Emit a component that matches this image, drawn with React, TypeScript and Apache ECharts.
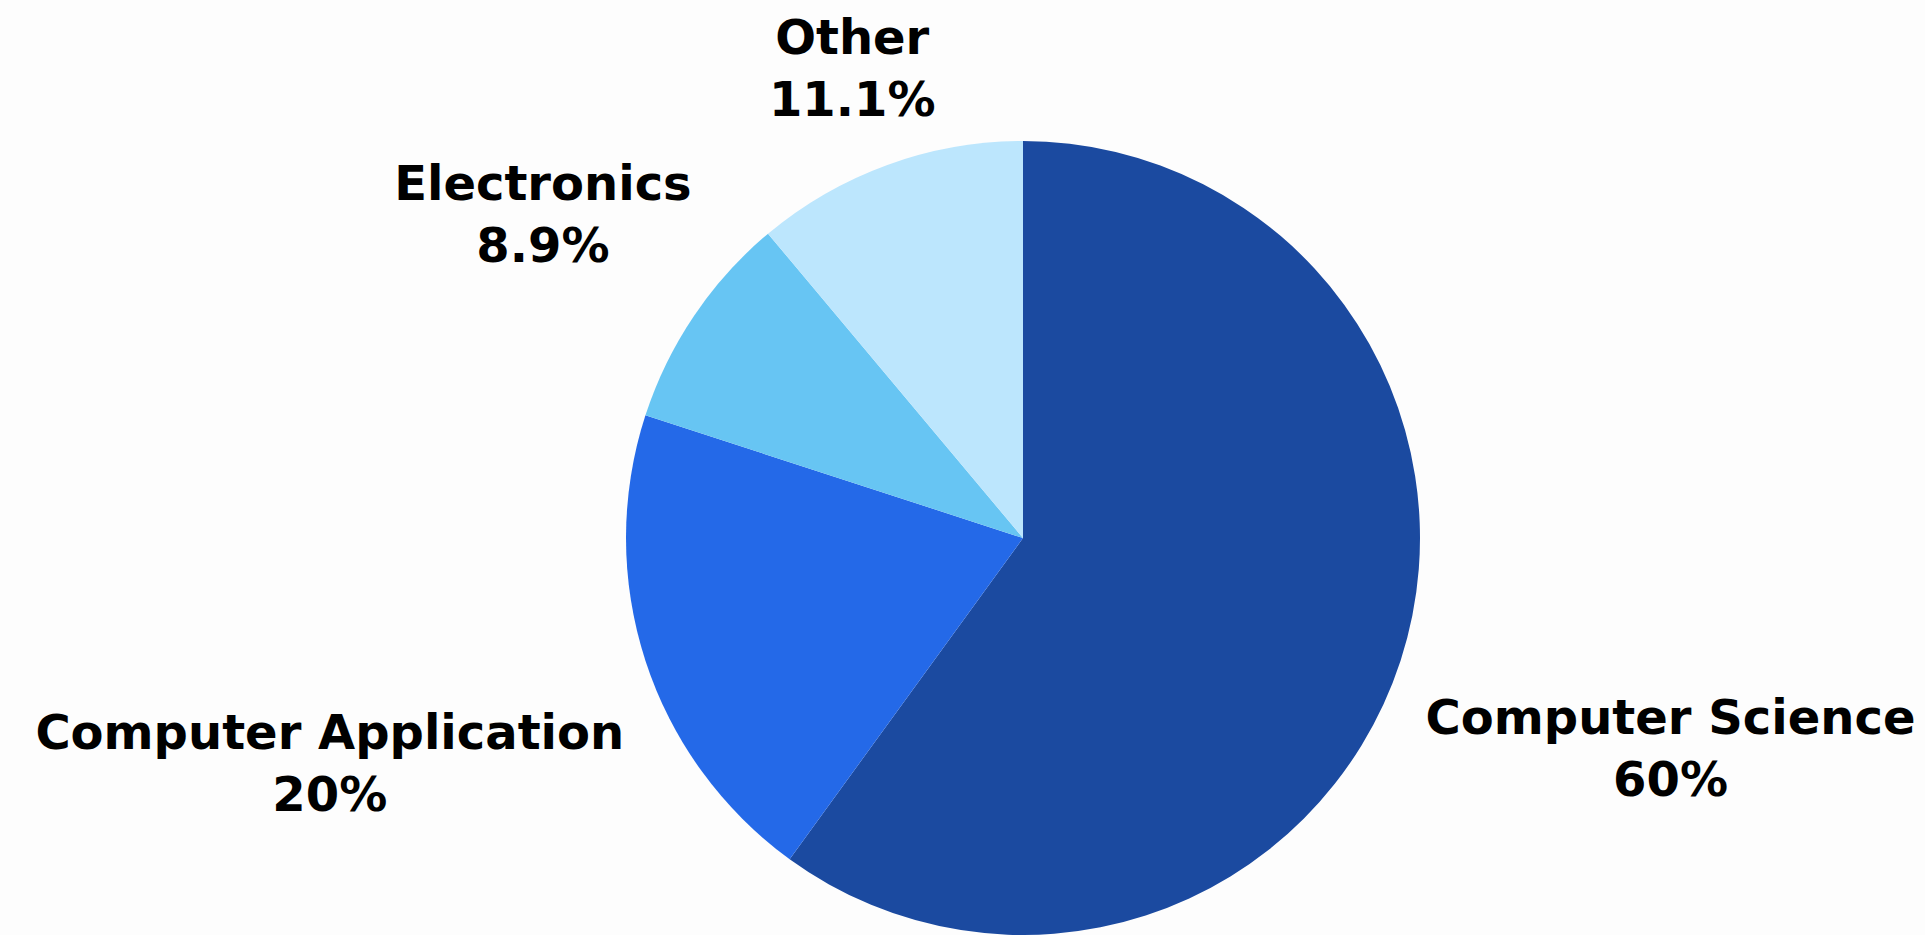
import React, { useEffect, useRef } from "react";
import * as echarts from "echarts";

const categories = ["Computer Science", "Computer Application", "Electronics", "Other"];
const values = [60, 20, 8.9, 11.1];
const colors = ["#1b4aa0", "#2469e8", "#67c5f3", "#bce6fd"];
// radial distance of each label centre, as a multiple of the radius
const labelDist = [1.715, 1.836, 1.459, 1.259];

const CX = 1023;
const CY = 538;
const R = 397;

export default function App() {
  const ref = useRef<HTMLDivElement>(null);
  useEffect(() => {
    if (!ref.current) return;
    const chart = echarts.init(ref.current, null, { renderer: "svg" });
    const total = values.reduce((a, b) => a + b, 0);
    const mids: number[] = [];
    let acc = 0;
    values.forEach((v) => {
      const mid = acc + v / 2;
      mids.push(Math.PI / 2 - (mid / total) * Math.PI * 2);
      acc += v;
    });
    chart.setOption({
      animation: false,
      backgroundColor: "#fdfdfd",
      series: [
        {
          type: "pie",
          center: [CX, CY],
          radius: R,
          startAngle: 90,
          clockwise: true,
          avoidLabelOverlap: false,
          itemStyle: { borderWidth: 0 },
          label: {
            show: true,
            position: "outside",
            formatter: "{b}\n{c}%",
            fontFamily: "DejaVu Sans",
            fontWeight: "bold",
            fontSize: 48,
            lineHeight: 62,
            color: "#000000",
            align: "center",
          },
          labelLine: { show: false },
          emphasis: { disabled: true },
          labelLayout: (params: any) => {
            const i = params.dataIndex;
            const a = mids[i];
            const d = labelDist[i] * R;
            return {
              x: CX + Math.cos(a) * d,
              y: CY - Math.sin(a) * d,
              align: "center",
              verticalAlign: "middle",
            };
          },
          data: categories.map((name, i) => ({
            name,
            value: values[i],
            itemStyle: { color: colors[i] },
          })),
        },
      ],
    });
    return () => chart.dispose();
  }, []);
  return (
    <div
      ref={ref}
      style={{ position: "fixed", left: 0, top: 0, width: "1925px", height: "935px" }}
    />
  );
}
